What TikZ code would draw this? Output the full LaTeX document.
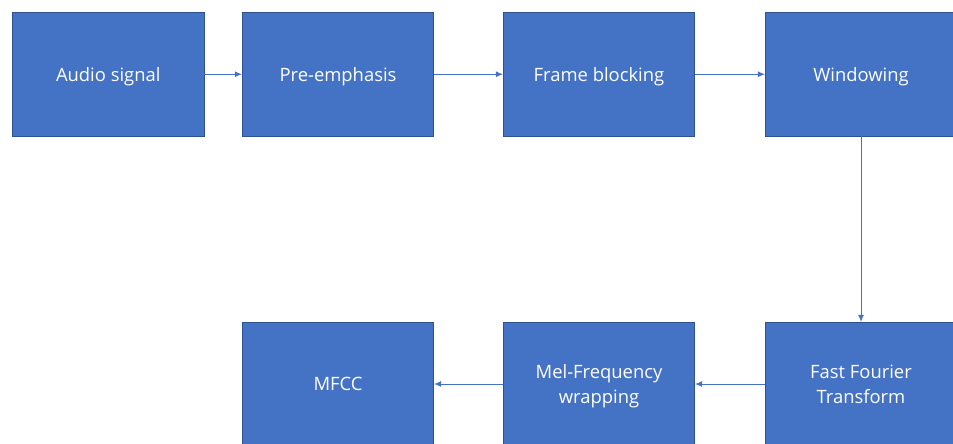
\documentclass[tikz,border=0pt]{standalone}
\usepackage{fontspec}
\setmainfont{Open Sans}
\usetikzlibrary{arrows.meta}
\definecolor{boxblue}{HTML}{4472C4}
\definecolor{boxedge}{HTML}{2F528F}
\begin{document}
\begin{tikzpicture}[x=1pt, y=-1pt,
	stage/.style={fill=boxblue, draw=boxedge, line width=0.9pt, minimum width=191.5pt, minimum height=123.5pt, text=white, align=center, inner sep=2pt, text depth=0pt, font=\fontsize{18.4}{25}\selectfont},
	flow/.style={draw=boxblue, line width=0.7pt, -{Latex[length=7pt, width=6pt]}}]
%	\draw[help lines] (0,0) grid (953,444);
	\useasboundingbox (0,0) rectangle (953,444);
	\node[stage] (audio) at (108.25, 74.25) {Audio signal};
	\node[stage] (preemph) at (338, 74.25) {Pre-emphasis};
	\node[stage] (frames) at (599, 74.25) {Frame blocking};
	\node[stage] (window) at (861, 74.25) {Windowing};
	\node[stage] (fft) at (861, 384) {Fast Fourier\\Transform};
	\node[stage] (melwrap) at (599, 384) {Mel-Frequency\\wrapping};
	\node[stage] (mfcc) at (338, 384) {MFCC};
	\draw[flow] (audio) -- (preemph);
	\draw[flow] (preemph) -- (frames);
	\draw[flow] (frames) -- (window);
	\draw[flow] (window) -- (fft);
	\draw[flow] (fft) -- (melwrap);
	\draw[flow] (melwrap) -- (mfcc);
\end{tikzpicture}
\end{document}
